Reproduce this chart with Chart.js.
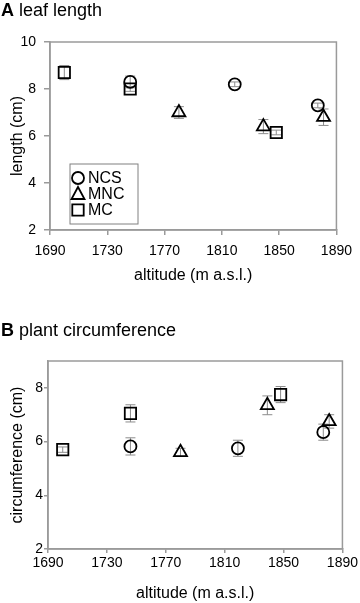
<!DOCTYPE html>
<html>
<head>
<meta charset="utf-8">
<script src="https://cdn.jsdelivr.net/npm/chart.js@4.4.0/dist/chart.umd.min.js"></script>
<style>
body { margin: 0; background: #fff; width: 360px; height: 603px; position: relative; overflow: hidden; font-family: "Liberation Sans", Arial, sans-serif; }
.ttl { position: absolute; left: 1px; font-size: 18px; line-height: 20px; color: #000; z-index: 2; }
.box { position: absolute; left: 0; width: 360px; }
</style>
</head>
<body>
<div class="ttl" style="top:0px"><b>A</b> leaf length</div>
<div class="box" style="top:0px;height:300px"><canvas id="chartA" width="360" height="300"></canvas></div>
<div class="ttl" style="top:320px"><b>B</b> plant circumference</div>
<div class="box" style="top:300px;height:303px"><canvas id="chartB" width="360" height="303"></canvas></div>
<script>
// tick labels
const altTicks = [1690, 1730, 1770, 1810, 1850, 1890];
const lengthTicks = [2, 4, 6, 8, 10];
const circTicks = [2, 4, 6, 8];

// A: leaf length (cm)
const ncsAltA = [1746, 1819, 1877];
const ncsLenA = [8.3, 8.2, 7.3];
const ncsErrA = [0.25, 0.1, 0.1];
const mncAltA = [1780, 1839, 1881];
const mncLenA = [7.0, 6.4, 6.8];
const mncErrA = [0.25, 0.3, 0.35];
const mcAltA = [1700, 1746, 1848];
const mcLenA = [8.7, 8.0, 6.15];
const mcErrA = [0.3, 0.1, 0.1];

// B: plant circumference (cm)
const ncsAltB = [1746, 1819, 1877];
const ncsCircB = [5.82, 5.75, 6.35];
const ncsErrB = [0.32, 0.3, 0.3];
const mncAltB = [1780, 1839, 1881];
const mncCircB = [5.6, 7.35, 6.75];
const mncErrB = [0.15, 0.35, 0.25];
const mcAltB = [1700, 1746, 1848];
const mcCircB = [5.7, 7.05, 7.75];
const mcErrB = [0.1, 0.32, 0.3];

const FONT = '"Liberation Sans", Arial, sans-serif';

function pts(xs, ys) {
    return xs.map((x, i) => ({x: x, y: ys[i]}));
}

function marker(ctx, style, x, y) {
    ctx.beginPath();
    if (style === 'circle') {
        ctx.arc(x, y, 6, 0, Math.PI * 2);
    } else if (style === 'triangle') {
        ctx.moveTo(x, y - 7);
        ctx.lineTo(x + 6.5, y + 5);
        ctx.lineTo(x - 6.5, y + 5);
        ctx.closePath();
    } else {
        ctx.rect(x - 5.7, y - 5.7, 11.4, 11.4);
    }
    ctx.stroke();
}

// error bars drawn under the markers, from each dataset's errors array
const errorBars = {
    id: 'errorBars',
    beforeDatasetsDraw(chart) {
        const ctx = chart.ctx;
        const yScale = chart.scales.y;
        ctx.save();
        ctx.strokeStyle = '#8c8c8c';
        ctx.lineWidth = 1;
        chart.data.datasets.forEach((ds, i) => {
            const meta = chart.getDatasetMeta(i);
            meta.data.forEach((el, j) => {
                const v = ds.data[j].y;
                const e = ds.errors[j];
                const top = yScale.getPixelForValue(v + e);
                const bot = yScale.getPixelForValue(v - e);
                ctx.beginPath();
                ctx.moveTo(el.x, top); ctx.lineTo(el.x, bot);
                ctx.moveTo(el.x - 5, top); ctx.lineTo(el.x + 5, top);
                ctx.moveTo(el.x - 5, bot); ctx.lineTo(el.x + 5, bot);
                ctx.stroke();
            });
        });
        ctx.restore();
    }
};

// grey frame round the plot area
const frame = {
    id: 'frame',
    afterDraw(chart) {
        const a = chart.chartArea;
        const ctx = chart.ctx;
        ctx.save();
        ctx.strokeStyle = '#9a9a9a';
        ctx.lineWidth = 1.5;
        ctx.strokeRect(a.left, a.top, a.right - a.left, a.bottom - a.top);
        ctx.restore();
    }
};

// boxed legend inside the plot (panel A only)
const boxLegend = {
    id: 'boxLegend',
    afterDraw(chart, args, opts) {
        if (!opts.show) return;
        const a = chart.chartArea;
        const ctx = chart.ctx;
        const x0 = a.left + 20, y0 = a.bottom - 66;
        ctx.save();
        ctx.strokeStyle = '#808080';
        ctx.lineWidth = 1;
        ctx.strokeRect(x0, y0, 68, 60);
        ctx.font = '16px ' + FONT;
        ctx.fillStyle = '#000';
        ctx.textBaseline = 'middle';
        const rowY = [14, 30, 46];
        chart.data.datasets.forEach((ds, i) => {
            ctx.strokeStyle = '#000';
            ctx.lineWidth = 1.8;
            marker(ctx, ds.pointStyle, x0 + 8, y0 + rowY[i]);
            ctx.fillText(ds.label, x0 + 18, y0 + rowY[i] + 1);
        });
        ctx.restore();
    }
};

function makeChart(id, series, yOpts, lay, showLegend) {
    const datasets = series.map(s => ({
        label: s.label,
        data: pts(s.alt, s.val),
        errors: s.err,
        pointStyle: s.style,
        pointRadius: s.r,
        pointHoverRadius: s.r,
        pointBorderWidth: 1.8,
        borderColor: '#000',
        backgroundColor: 'rgba(0,0,0,0)',
        showLine: false
    }));

    new Chart(document.getElementById(id), {
        type: 'scatter',
        data: {datasets: datasets},
        options: {
            responsive: false,
            animation: false,
            layout: {padding: {top: lay.top, right: 17, left: 0, bottom: 0}},
            plugins: {
                legend: {display: false},
                tooltip: {enabled: false},
                boxLegend: {show: showLegend}
            },
            scales: {
                x: {
                    type: 'linear',
                    min: 1690,
                    max: 1890,
                    afterBuildTicks: sc => { sc.ticks = altTicks.map(v => ({value: v})); },
                    afterFit: sc => { sc.height = lay.xh; },
                    grid: {drawOnChartArea: false, tickLength: lay.xTick, color: '#9a9a9a', lineWidth: 1.5},
                    border: {color: '#9a9a9a', width: 1.5},
                    ticks: {color: '#000', padding: lay.xPad, maxRotation: 0, font: {family: FONT, size: 14}, callback: v => String(v)},
                    title: {display: true, text: 'altitude (m a.s.l.)', color: '#000', padding: {top: 0, bottom: lay.xTitlePad}, font: {family: FONT, size: 16}}
                },
                y: {
                    min: yOpts.min,
                    max: yOpts.max,
                    afterBuildTicks: sc => { sc.ticks = yOpts.ticks.map(v => ({value: v})); },
                    afterFit: sc => { sc.width = lay.yw; },
                    grid: {drawOnChartArea: false, tickLength: lay.yTick, color: '#9a9a9a', lineWidth: 1.5},
                    border: {color: '#9a9a9a', width: 1.5},
                    ticks: {color: '#000', padding: lay.yPad, font: {family: FONT, size: 14}, callback: v => String(v)},
                    title: {display: true, text: yOpts.title, color: '#000', padding: {top: 8, bottom: 0}, font: {family: FONT, size: 16}}
                }
            }
        },
        plugins: [errorBars, frame, boxLegend]
    });
}

makeChart('chartA', [
    {label: 'NCS', alt: ncsAltA, val: ncsLenA, err: ncsErrA, style: 'circle', r: 6},
    {label: 'MNC', alt: mncAltA, val: mncLenA, err: mncErrA, style: 'triangle', r: 7.5},
    {label: 'MC', alt: mcAltA, val: mcLenA, err: mcErrA, style: 'rect', r: 8}
], {min: 2, max: 10, ticks: lengthTicks, title: 'length (cm)'},
   {top: 42, xh: 70, yw: 50, xTick: 5, xPad: 8, xTitlePad: 15, yTick: 6, yPad: 8}, true);

makeChart('chartB', [
    {label: 'NCS', alt: ncsAltB, val: ncsCircB, err: ncsErrB, style: 'circle', r: 6},
    {label: 'MNC', alt: mncAltB, val: mncCircB, err: mncErrB, style: 'triangle', r: 7.5},
    {label: 'MC', alt: mcAltB, val: mcCircB, err: mcErrB, style: 'rect', r: 8}
], {min: 2, max: 9, ticks: circTicks, title: 'circumference (cm)'},
   {top: 61, xh: 54, yw: 48, xTick: 4, xPad: 2, xTitlePad: 0, yTick: 4, yPad: 1}, false);
</script>
</body>
</html>
